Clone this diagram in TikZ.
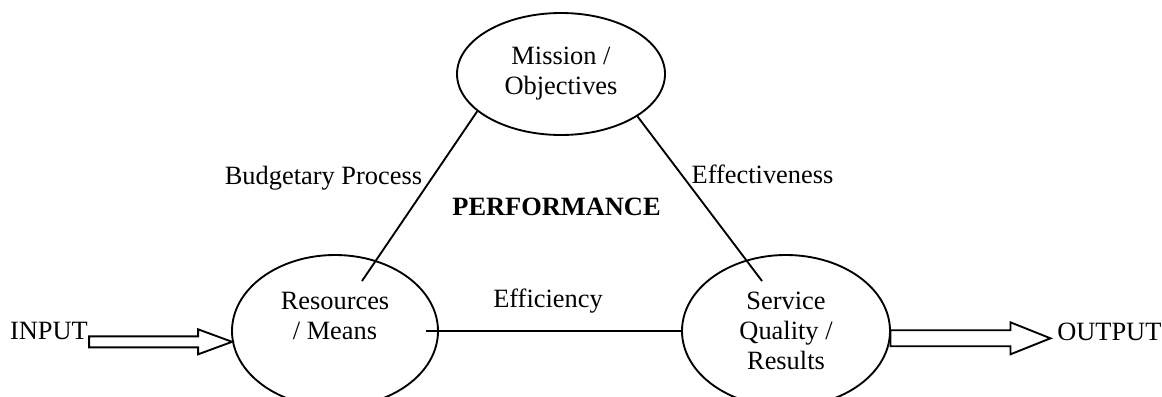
\documentclass[tikz,border=0pt]{standalone}
\usepackage{fontspec}
\setmainfont{Liberation Serif}
\usetikzlibrary{shapes.geometric}
\begin{document}
\begin{tikzpicture}[x=0.75pt,y=-0.75pt,
  oval/.style={draw, ellipse, line width=1.4pt, inner sep=0pt},
  lbl/.style={font=\fontsize{19.8}{22.5}\selectfont, inner sep=0pt},
  mtext/.style={lbl, align=center},
  link/.style={line width=1.4pt},
  hollow/.style={draw, line width=1.4pt, fill=white, line join=miter}]
\useasboundingbox (0,0) rectangle (1162,396);
\fill[white] (0,0) rectangle (1162,396);
% ellipses
\node[oval, minimum width=156pt, minimum height=91.5pt] (mis) at (561,74) {};
\node[oval, minimum width=154.5pt, minimum height=114pt] (res) at (335,331) {};
\node[oval, minimum width=156pt, minimum height=114pt] (ser) at (786,331) {};
% texts in ellipses
\node[mtext] (mist) at (561,74) {Mission /\\Objectives};
\node[mtext] (rest) at (335,315.5) {Resources\\/ Means};
\node[mtext] (sert) at (786,331) {Service\\Quality /\\Results};
% labels
\node[lbl, anchor=base] (bud) at (323.5,184) {Budgetary Process};
\node[lbl, anchor=base, font=\fontsize{19.8}{22.5}\selectfont\bfseries] (perf) at (556.5,215) {PERFORMANCE};
\node[lbl, anchor=base] (effc) at (548,307) {Efficiency};
\node[lbl, anchor=base] (effv) at (762.5,183) {Effectiveness};
\node[lbl, anchor=base] (inp) at (49,339) {INPUT};
\node[lbl, anchor=base west] (outp) at (1057,340) {OUTPUT};
% connectors
\coordinate (budE) at (362,281);
\coordinate (effE) at (762,281);
\coordinate (effL) at (426,331);
\draw[link] (mis.204) -- (budE);
\draw[link] (mis.331) -- (effE);
\draw[link] (effL) -- (ser.west);
% hollow arrows
\draw[hollow] (res.186) -- ++(-34,-12.5) -- ++(0,7) -- ++(-109,0) -- ++(0,11) -- ++(109,0) -- ++(0,7) -- cycle;
\draw[hollow] (ser.-4) ++(0,-8) -- ++(120,0) -- ++(0,-8) -- ++(40,16) -- ++(-40,16) -- ++(0,-8) -- ++(-120,0) -- cycle;
\end{tikzpicture}
\end{document}
